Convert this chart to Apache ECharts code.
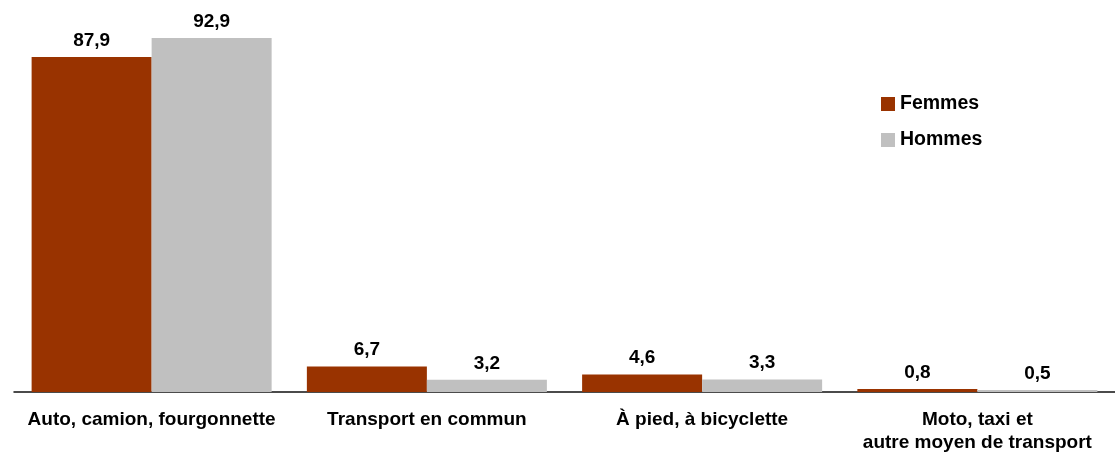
<!DOCTYPE html>
<html>
<head>
<meta charset="utf-8">
<script src="https://cdn.jsdelivr.net/npm/echarts@6/dist/echarts.min.js"></script>
<style>
  html, body { margin: 0; padding: 0; background: #fff; }
  #chart { width: 1115px; height: 454px; }
</style>
</head>
<body>
<div id="chart"></div>
<script>
// Mode de transport pour se rendre au travail, selon le sexe (%)
const categories = [
  'Auto, camion, fourgonnette',
  'Transport en commun',
  'À pied, à bicyclette',
  'Moto, taxi et\nautre moyen de transport'
];
const femmes = [87.9, 6.7, 4.6, 0.8];
const hommes = [92.9, 3.2, 3.3, 0.5];

const FONT = '"Liberation Sans", Arial, Helvetica, sans-serif';
const fmt = p => String(p.value).replace('.', ',');

const chart = echarts.init(document.getElementById('chart'), null, { renderer: 'canvas' });

const valueLabel = {
  show: true,
  position: 'top',
  distance: 7,
  formatter: fmt,
  color: '#000',
  fontFamily: FONT,
  fontWeight: 'bold',
  fontSize: 19
};

chart.setOption({
  animation: false,
  backgroundColor: '#fff',
  textStyle: { fontFamily: FONT },
  grid: { left: 14, right: 0, top: 11, bottom: 61, containLabel: false },
  legend: {
    orient: 'vertical',
    left: 881,
    top: 94,
    padding: 0,
    itemWidth: 14,
    itemHeight: 14,
    itemGap: 16,
    icon: 'rect',
    textStyle: { fontFamily: FONT, fontWeight: 'bold', fontSize: 19.5, color: '#000', lineHeight: 20 },
    data: ['Femmes', 'Hommes']
  },
  xAxis: {
    type: 'category',
    data: categories,
    axisLine: { show: true, lineStyle: { color: '#111', width: 1.5 } },
    axisTick: { show: false },
    axisLabel: {
      interval: 0,
      margin: 17,
      color: '#000',
      fontFamily: FONT,
      fontWeight: 'bold',
      fontSize: 19,
      lineHeight: 22.5
    }
  },
  yAxis: {
    type: 'value',
    min: 0,
    max: 100,
    show: false,
    splitLine: { show: false }
  },
  series: [
    {
      name: 'Femmes',
      type: 'bar',
      data: femmes,
      barGap: '0%',
      barCategoryGap: '12.8%',
      itemStyle: { color: '#993300' },
      label: valueLabel
    },
    {
      name: 'Hommes',
      type: 'bar',
      data: hommes,
      itemStyle: { color: '#C0C0C0' },
      label: valueLabel
    }
  ]
});
</script>
</body>
</html>
